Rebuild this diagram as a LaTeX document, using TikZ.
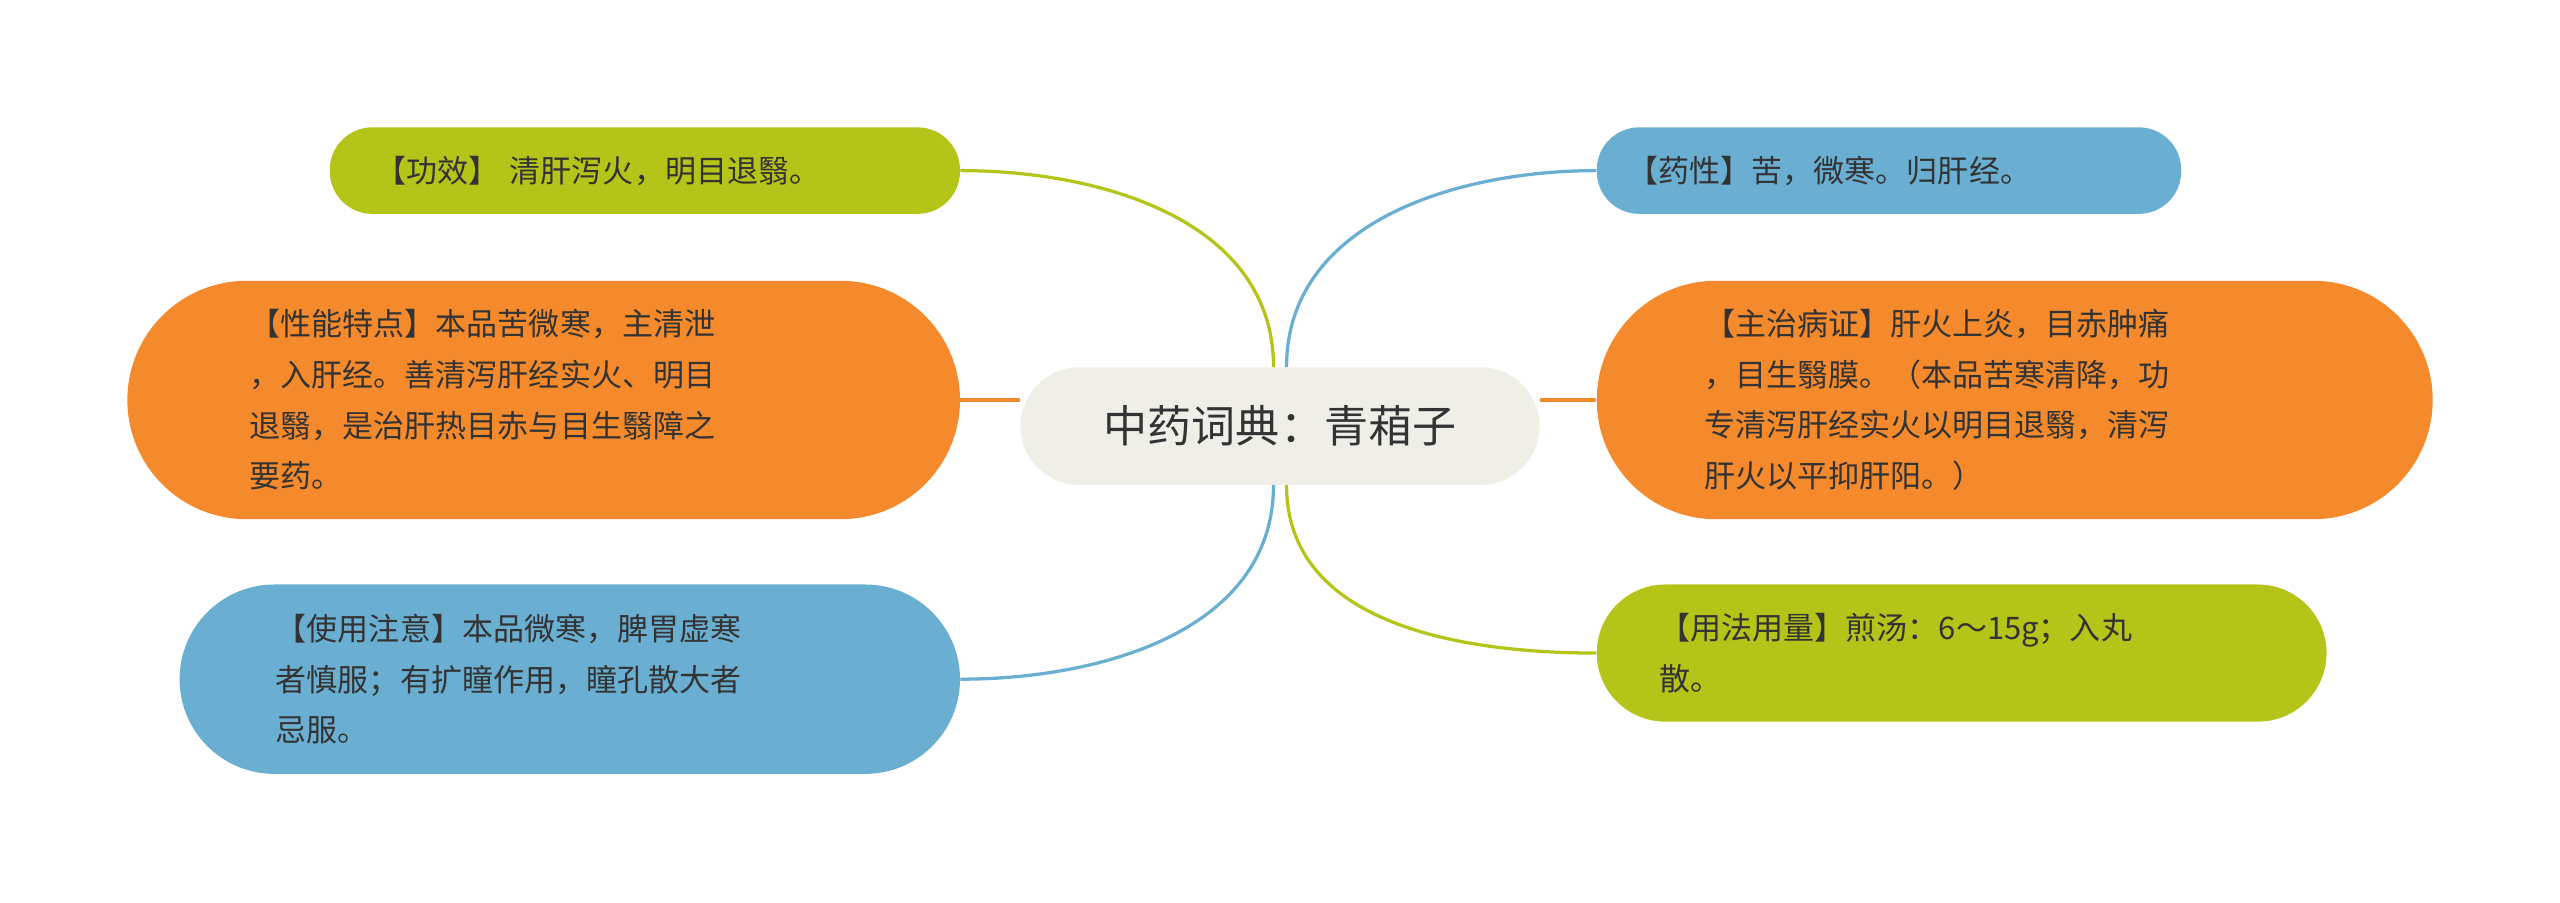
\documentclass[tikz,border=0pt]{standalone}
\usepackage{fontspec}
\setmainfont{Noto Sans CJK SC}
\definecolor{cgreen}{HTML}{B5C418}
\definecolor{corange}{HTML}{F48A2C}
\definecolor{cblue}{HTML}{6AAFD2}
\definecolor{ccenter}{HTML}{EFEFE8}
\definecolor{ctext}{HTML}{333333}
\begin{document}
\begin{tikzpicture}[x=1pt,y=-1pt,
  box/.style={rounded corners=26pt,inner sep=0pt,font=\fontsize{19}{31}\selectfont,text=ctext,align=left},
  link/.style={line width=2pt}]
\useasboundingbox (0,0) rectangle (1568,553);
\node[box,fill=ccenter,minimum width=318pt,minimum height=72pt,rounded corners=36pt,font=\fontsize{27}{32}\selectfont,align=center] (c) at (784,261) {中药词典：青葙子};
\node[box,fill=cgreen,minimum width=386pt,minimum height=53pt,text width=330pt] (a) at (395,104.5) {【功效】 清肝泻火，明目退翳。};
\node[box,fill=corange,minimum width=510pt,minimum height=146pt,rounded corners=73pt,text width=360pt] (b) at (333,245) {【性能特点】本品苦微寒，主清泄\\，入肝经。善清泻肝经实火、明目\\退翳，是治肝热目赤与目生翳障之\\要药。};
\node[box,fill=cblue,minimum width=478pt,minimum height=116pt,rounded corners=58pt,text width=360pt] (d) at (349,416) {【使用注意】本品微寒，脾胃虚寒\\者慎服；有扩瞳作用，瞳孔散大者\\忌服。};
\node[box,fill=cblue,minimum width=358pt,minimum height=53pt,text width=320pt] (e) at (1157,104.5) {【药性】苦，微寒。归肝经。};
\node[box,fill=corange,minimum width=512pt,minimum height=146pt,rounded corners=73pt,text width=380pt] (f) at (1234,245) {【主治病证】肝火上炎，目赤肿痛\\，目生翳膜。（本品苦寒清降，功\\专清泻肝经实火以明目退翳，清泻\\肝火以平抑肝阳。）};
\node[box,fill=cgreen,minimum width=447pt,minimum height=84pt,rounded corners=42pt,text width=370pt] (g) at (1201.5,400) {【用法用量】煎汤：6～15g；入丸\\散。};
\begin{scope}[on background layer/.style={}]
\end{scope}
\draw[link,cgreen] ([xshift=-4pt]c.north) to[out=90,in=0] (a.east);
\draw[link,corange] (c.west|-b.east) -- (b.east);
\draw[link,cblue] ([xshift=-4pt]c.south) to[out=-90,in=0] (d.east);
\draw[link,cblue] ([xshift=4pt]c.north) to[out=90,in=180] (e.west);
\draw[link,corange] (c.east|-f.west) -- (f.west);
\draw[link,cgreen] ([xshift=4pt]c.south) to[out=-90,in=180] (g.west);
\end{tikzpicture}
\end{document}
